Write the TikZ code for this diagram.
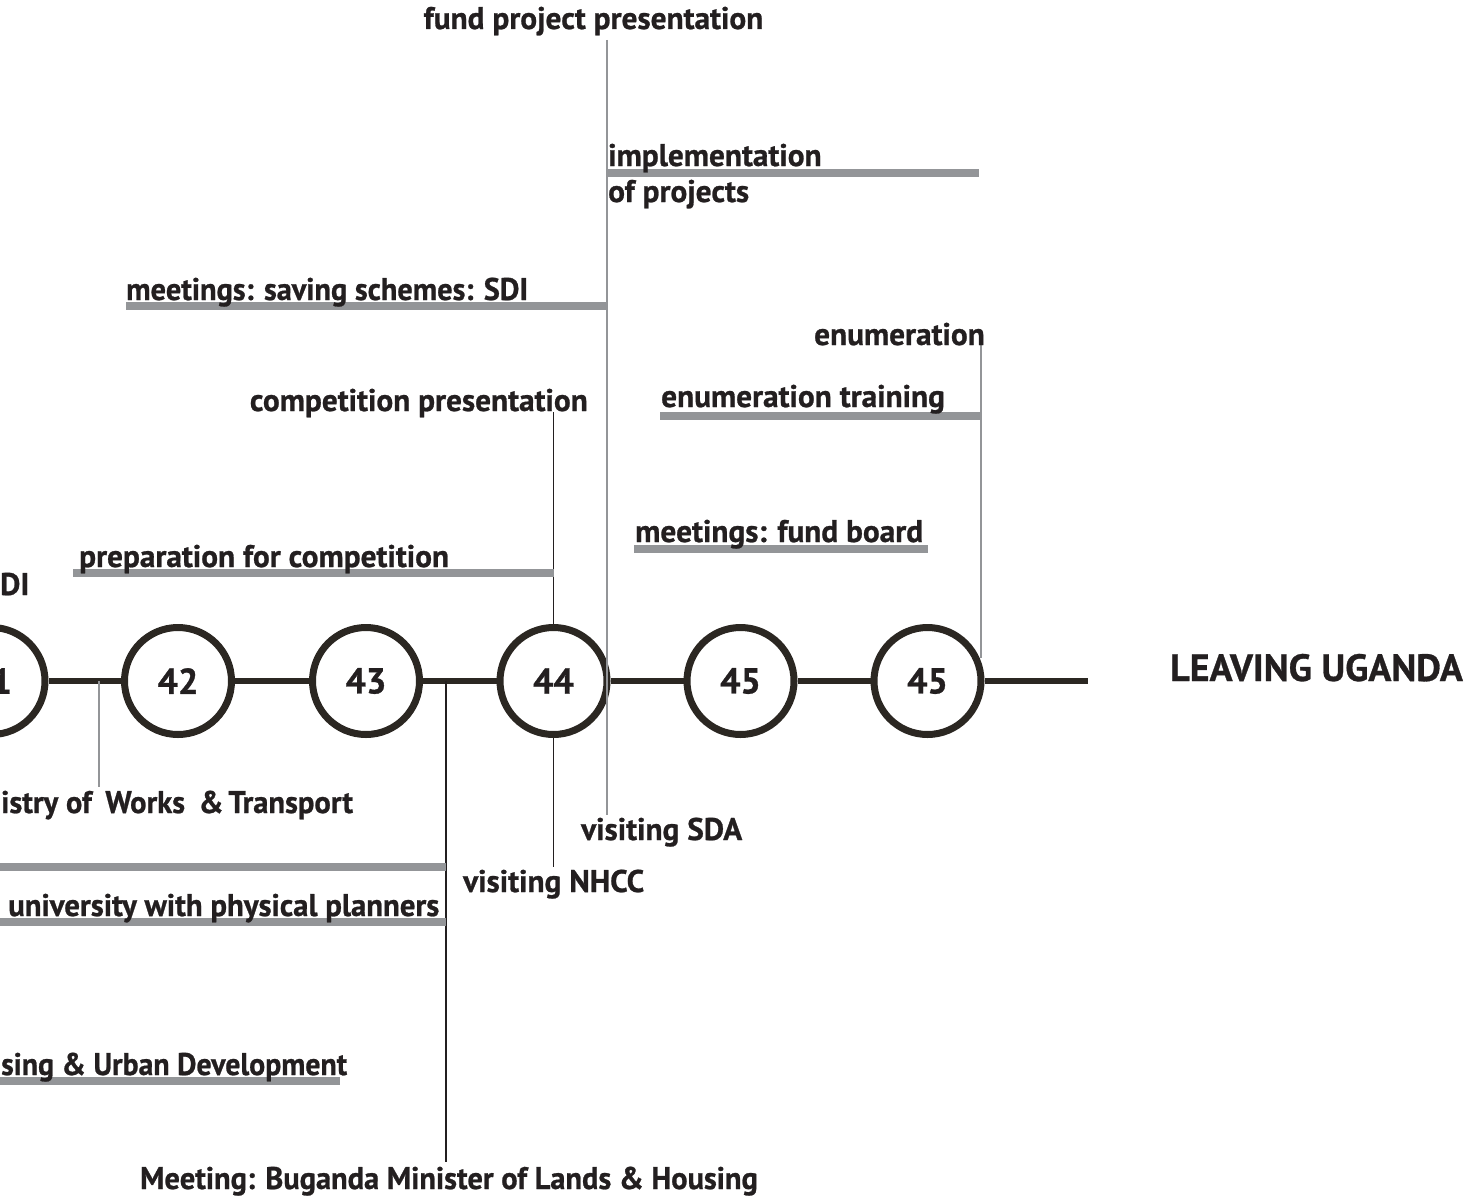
\documentclass[tikz,border=0pt]{standalone}
\usepackage{fontspec}
\setmainfont{PT Sans}[BoldFeatures={FakeBold=0.8}]
\definecolor{ink}{HTML}{231F20}
\definecolor{ink2}{HTML}{2B2722}
\definecolor{barg}{HTML}{939598}
\newcommand{\lblfont}{\fontsize{31.3}{36}\selectfont\bfseries}
\newcommand{\numfont}{\fontsize{36}{40}\selectfont\bfseries}
\newcommand{\bigfont}{\fontsize{38}{42}\selectfont\bfseries}
\newcommand{\sqx}[2]{\scalebox{#1}[1]{#2}}
\tikzset{
  lbl/.style={font=\lblfont, text=ink, inner sep=0pt},
  circ/.style={circle, draw=ink2, line width=7pt, minimum size=107pt, inner sep=0pt, font=\numfont, text=ink},
  tline/.style={draw=ink2, line width=6pt},
  bar/.style={draw=barg, line width=8pt},
  gline/.style={draw=barg, line width=2pt},
  kline/.style={draw=ink, line width=1.2pt}
}
\begin{document}
\begin{tikzpicture}[x=1pt,y=-1pt]
\useasboundingbox (0,0) rectangle (1469,1196);
\clip (0,0) rectangle (1469,1196);
% circles
\node[circ] (c41) at (-8.5,681) {41};
\node[circ] (c42) at (178,681) {42};
\node[circ] (c43) at (366,681) {43};
\node[circ] (c44) at (553.5,681) {44};
\node[circ] (c45) at (740.5,681) {45};
\node[circ] (c46) at (927.5,681) {45};
\coordinate (tend) at (1088,681);
\path[tline] (c41.east) -- (c42.west);
\path[tline] (c42.east) -- (c43.west);
\path[tline] (c43.east) -- (c44.west);
\path[tline] (c44.east) -- (c45.west);
\path[tline] (c45.east) -- (c46.west);
\path[tline] (c46.east) -- (tend);
% coordinates
\coordinate (p99a) at (99,681);
\coordinate (p99b) at (99,787);
\coordinate (p446a) at (446,681);
\coordinate (p446b) at (446,1162);
\coordinate (p553a) at (553.5,412);
\coordinate (p553b) at (553.5,867);
\coordinate (p607a) at (607,40);
\coordinate (p607b) at (607,815);
\coordinate (p981a) at (981,344);
\coordinate (p981b) at (981,658);
% vertical connectors
\path[gline] (p99a) -- (p99b);
\path[kline] (p446a) -- (p446b);
\path[kline] (p553a) -- (c44.north);
\path[kline] (c44.south) -- (p553b);
\path[gline] (p607a) -- (p607b);
\path[gline] (p981a) -- (p981b);
% bars
\coordinate (b1a) at (126,306);   \coordinate (b1b) at (607,306);
\coordinate (b2a) at (607,172.5); \coordinate (b2b) at (979,172.5);
\coordinate (b3a) at (660,416);   \coordinate (b3b) at (981,416);
\coordinate (b4a) at (634,549);   \coordinate (b4b) at (928,549);
\coordinate (b5a) at (73,573);    \coordinate (b5b) at (553.5,573);
\coordinate (b6a) at (0,867);     \coordinate (b6b) at (446,867);
\coordinate (b7a) at (0,921.5);   \coordinate (b7b) at (446,921.5);
\coordinate (b8a) at (0,1081);    \coordinate (b8b) at (340,1081);
\path[bar] (b1a) -- (b1b);
\path[bar] (b2a) -- (b2b);
\path[bar] (b3a) -- (b3b);
\path[bar] (b4a) -- (b4b);
\path[bar] (b5a) -- (b5b);
\path[bar] (b6a) -- (b6b);
\path[bar] (b7a) -- (b7b);
\path[bar] (b8a) -- (b8b);
% labels
\node[lbl, anchor=base] (t1) at (593.5,29) {fund project presentation};
\node[lbl, anchor=base west] (t2) at (608,166) {implementation};
\node[lbl, anchor=base west] (t3) at (608,202) {of projects};
\node[lbl, anchor=base west] (t4) at (126,300) {\sqx{0.969}{meetings: saving schemes: SDI}};
\node[lbl, anchor=base east] (t5) at (985,345) {enumeration};
\node[lbl, anchor=base east] (t6) at (588,411) {competition presentation};
\node[lbl, anchor=base west] (t7) at (661,407) {enumeration training};
\node[lbl, anchor=base west] (t8) at (635,542) {meetings: fund board};
\node[lbl, anchor=base west] (t9) at (79,567) {preparation for competition};
\node[lbl, anchor=base west] (t10) at (0,595) {DI};
\node[lbl, font=\bigfont, anchor=base west] (t11) at (1170,681) {LEAVING UGANDA};
\node[lbl, anchor=base west] (t12) at (1,813) {\sqx{0.975}{istry of\hskip 14pt Works\hskip 14pt\&\hskip 5pt Transport}};
\node[lbl, anchor=base west] (t13) at (8,916) {\sqx{0.984}{university with physical planners}};
\node[lbl, anchor=base west] (t14) at (1,1075) {\sqx{0.953}{sing \& Urban Development}};
\node[lbl, anchor=base west] (t15) at (463,892) {visiting NHCC};
\node[lbl, anchor=base west] (t16) at (581,840) {visiting SDA};
\node[lbl, anchor=base] (t17) at (449,1189) {\sqx{0.972}{Meeting: Buganda Minister of Lands \& Housing}};
\end{tikzpicture}
\end{document}
